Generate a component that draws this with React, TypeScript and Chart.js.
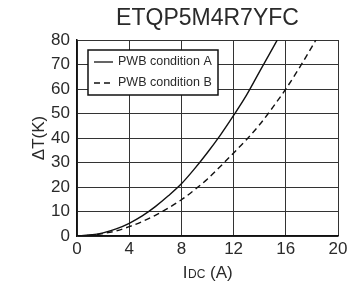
import { useEffect, useRef } from "react";
import { Chart, registerables } from "chart.js";
Chart.register(...registerables);

const chartTitle = "ETQP5M4R7YFC";
const yAxisTitle = "ΔT(K)";
const xAxisMain = "I";
const xAxisSub = "DC";
const xAxisUnit = " (A)";
const seriesNames = ["PWB condition A", "PWB condition B"];

const xTicks = [0, 4, 8, 12, 16, 20];
const yTicks = [0, 10, 20, 30, 40, 50, 60, 70, 80];

const currentA = [0, 1, 2, 3, 4, 5, 6, 7, 8, 9, 10, 11, 12, 13, 14, 15, 15.35];
const deltaTA = [0, 0.4, 1.3, 2.9, 5.2, 8.2, 12, 16.4, 21.3, 27.4, 34.1, 41.3, 49.2, 57.6, 67.2, 76.7, 80];

const currentB = [0, 1, 2, 3, 4, 5, 6, 7, 8, 9, 10, 11, 12, 13, 14, 15, 16, 17, 18, 18.31];
const deltaTB = [0, 0.3, 1.0, 2.1, 3.8, 5.9, 8.4, 11.4, 14.8, 18.8, 23.3, 28.5, 33.9, 39.4, 45.5, 52.5, 60, 68.3, 77.2, 80];

const FONT = "'Liberation Sans', Arial, sans-serif";
const TEXT = "#2a2a2a";

export default function App() {
  const ref = useRef<HTMLCanvasElement | null>(null);
  useEffect(() => {
    if (!ref.current) return;
    const overlay = {
      id: "overlay",
      afterDraw(chart: any) {
        const ctx = chart.ctx as CanvasRenderingContext2D;
        const area = chart.chartArea;
        ctx.save();
        // title
        ctx.fillStyle = TEXT;
        ctx.font = `300 23px ${FONT}`;
        ctx.textAlign = "center";
        ctx.textBaseline = "middle";
        ctx.fillText(chartTitle, (area.left + area.right) / 2, 19);
        // y title
        ctx.save();
        ctx.translate(39, (area.top + area.bottom) / 2);
        ctx.rotate(-Math.PI / 2);
        ctx.font = `17px ${FONT}`;
        ctx.fillText(yAxisTitle, 0, 0);
        ctx.restore();
        // x title
        const big = `17px ${FONT}`;
        const small = `12px ${FONT}`;
        ctx.font = big;
        const w1 = ctx.measureText(xAxisMain).width;
        const w3 = ctx.measureText(xAxisUnit).width;
        ctx.font = small;
        const w2 = ctx.measureText(xAxisSub).width;
        let x = (area.left + area.right) / 2 - (w1 + w2 + w3) / 2;
        ctx.textAlign = "left";
        ctx.textBaseline = "alphabetic";
        const by = 278;
        ctx.font = big;
        ctx.fillText(xAxisMain, x, by);
        x += w1 + 0.5;
        ctx.font = small;
        ctx.fillText(xAxisSub, x, by);
        x += w2;
        ctx.font = big;
        ctx.fillText(xAxisUnit, x, by);
        // legend
        const lx = 88, ly = 50, lw = 130, lh = 45;
        ctx.fillStyle = "#fff";
        ctx.fillRect(lx, ly, lw, lh);
        ctx.strokeStyle = "#111";
        ctx.lineWidth = 1.5;
        ctx.strokeRect(lx, ly, lw, lh);
        ctx.font = `12.5px ${FONT}`;
        ctx.fillStyle = TEXT;
        ctx.textBaseline = "middle";
        const rows = [ly + 12, ly + 33];
        rows.forEach((yy, i) => {
          ctx.beginPath();
          ctx.setLineDash(i === 0 ? [] : [6, 4]);
          ctx.lineWidth = 1.3;
          ctx.strokeStyle = "#111";
          ctx.moveTo(lx + 6, yy);
          ctx.lineTo(lx + 25, yy);
          ctx.stroke();
          ctx.setLineDash([]);
          ctx.fillText(seriesNames[i], lx + 30, yy);
        });
        ctx.restore();
      },
    };
    const chart = new Chart(ref.current, {
      type: "line",
      data: {
        datasets: [
          {
            label: seriesNames[0],
            data: currentA.map((x, i) => ({ x, y: deltaTA[i] })),
            borderColor: "#111",
            borderWidth: 1.4,
            pointRadius: 0,
            cubicInterpolationMode: "monotone",
            fill: false,
          },
          {
            label: seriesNames[1],
            data: currentB.map((x, i) => ({ x, y: deltaTB[i] })),
            borderColor: "#111",
            borderWidth: 1.4,
            borderDash: [6, 4],
            pointRadius: 0,
            cubicInterpolationMode: "monotone",
            fill: false,
          },
        ],
      },
      options: {
        animation: false,
        responsive: false,
        devicePixelRatio: 1,
        layout: { padding: { top: 40, right: 20, left: 0, bottom: 0 } },
        plugins: { legend: { display: false }, title: { display: false }, tooltip: { enabled: false } },
        scales: {
          x: {
            type: "linear",
            min: 0,
            max: 20,
            afterBuildTicks: (s: any) => { s.ticks = xTicks.map((v) => ({ value: v })); },
            afterFit: (s: any) => { s.height = 53; },
            grid: { color: "#333", lineWidth: 1, drawTicks: false },
            border: { color: "#111", width: 1.5 },
            ticks: { color: TEXT, font: { size: 17, family: FONT }, padding: 3, maxRotation: 0 },
          },
          y: {
            min: 0,
            max: 80,
            afterBuildTicks: (s: any) => { s.ticks = yTicks.map((v) => ({ value: v })); },
            afterFit: (s: any) => { s.width = 77; },
            grid: { color: "#333", lineWidth: 1, drawTicks: false },
            border: { color: "#111", width: 1.5 },
            ticks: { color: TEXT, font: { size: 17, family: FONT }, padding: 7 },
          },
        },
      },
      plugins: [overlay],
    } as any);
    return () => chart.destroy();
  }, []);
  return (
    <div style={{ position: "fixed", left: 0, top: 0, width: 358, height: 289, background: "#fff" }}>
      <canvas ref={ref} width={358} height={289} style={{ width: 358, height: 289 }} />
    </div>
  );
}
